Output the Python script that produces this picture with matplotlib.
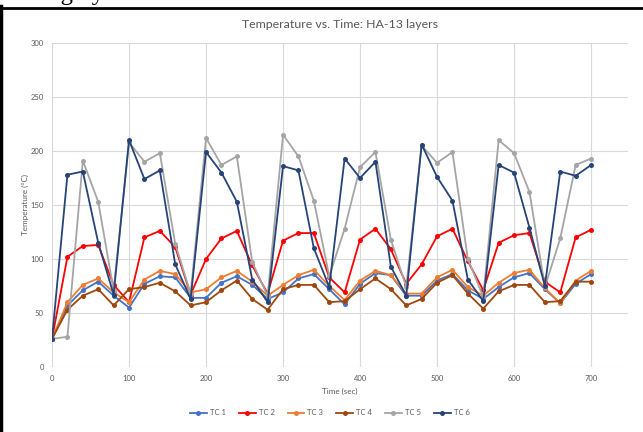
import matplotlib
matplotlib.use("Agg")
import matplotlib.pyplot as plt
from matplotlib.lines import Line2D

plt.rcParams['font.family'] = ['Lato', 'DejaVu Sans']

time_sec = list(range(0, 701, 20))

tc1 = [26, 57, 71, 79, 66, 55, 77, 84, 83, 64, 64, 78, 84, 76, 63, 69, 82, 86, 72, 58,
       77, 87, 85, 66, 66, 80, 86, 71, 63, 74, 83, 87, 72, 59, 77, 86]
tc2 = [26, 102, 112, 113, 76, 60, 120, 126, 111, 67, 100, 119, 126, 94, 68, 117, 124, 124, 83, 69,
       118, 128, 109, 77, 95, 121, 128, 98, 71, 115, 122, 124, 79, 69, 120, 127]
tc3 = [26, 60, 76, 82, 69, 60, 81, 89, 86, 69, 72, 83, 89, 79, 66, 76, 85, 90, 75, 62,
       80, 89, 85, 68, 68, 83, 90, 74, 66, 78, 87, 90, 73, 59, 80, 89]
tc4 = [26, 53, 66, 72, 57, 72, 74, 78, 70, 57, 60, 71, 80, 63, 53, 72, 76, 76, 60, 61,
       72, 82, 72, 57, 63, 78, 85, 68, 54, 70, 76, 76, 60, 61, 79, 79]
tc5 = [26, 28, 191, 153, 71, 208, 190, 198, 114, 68, 212, 187, 195, 97, 66, 215, 195, 154, 84, 128,
       185, 199, 118, 74, 205, 189, 199, 100, 65, 210, 198, 162, 74, 119, 187, 193]
tc6 = [26, 178, 181, 115, 67, 210, 174, 182, 95, 63, 199, 180, 153, 81, 60, 186, 182, 110, 74, 193,
       175, 190, 93, 66, 206, 176, 154, 81, 61, 187, 180, 129, 75, 181, 177, 187]

series_names = ["TC 1", "TC 2", "TC 3", "TC 4", "TC 5", "TC 6"]
series_values = [tc1, tc2, tc3, tc4, tc5, tc6]
series_colors = ["#4472C4", "#FF0000", "#ED7D31", "#9E480E", "#A5A5A5", "#264478"]

x_ticks = [0, 100, 200, 300, 400, 500, 600, 700]
y_ticks = [0, 50, 100, 150, 200, 250, 300]

fig = plt.figure(figsize=(6.43, 4.32), dpi=100)
ax = fig.add_axes([0.0809, 0.1505, 0.8958, 0.7500])

for name, vals, col in zip(series_names, series_values, series_colors):
    ax.plot(time_sec, vals, color=col, lw=1.3, marker='o', ms=3.6,
            markeredgewidth=0, label=name)

ax.set_xlim(0, 748)
ax.set_ylim(0, 300)
ax.set_xticks(x_ticks)
ax.set_yticks(y_ticks)
ax.grid(True, color="#D9D9D9", lw=0.8)
ax.set_axisbelow(True)
for s in ax.spines.values():
    s.set_visible(False)
ax.tick_params(length=0, labelsize=5.5, colors="#595959", pad=6)
ax.set_xlabel("Time (sec)", fontsize=5.8, color="#595959", labelpad=4)
ax.set_ylabel("Temperature (°C)", fontsize=5.8, color="#595959", labelpad=1)
ax.set_title("Temperature vs. Time: HA-13 layers", fontsize=8.9, color="#595959", pad=11)

leg = fig.legend(loc='center', bbox_to_anchor=(0.513, 0.044), ncol=6, frameon=False,
                 fontsize=5.5, handlelength=2.2, columnspacing=1.7, handletextpad=0.4)
for t in leg.get_texts():
    t.set_color("#595959")

# document frame around the embedded chart
fig.add_artist(Line2D([0.002, 0.002], [0, 0.985], transform=fig.transFigure, color='black', lw=2.5))
fig.add_artist(Line2D([0.0, 1.0], [0.982, 0.982], transform=fig.transFigure, color='black', lw=2))
fig.text(0.075, 0.9995, "ng by", fontsize=18, family=['Liberation Serif'], va='baseline', color='black')

fig.savefig("out.png", dpi=100)
